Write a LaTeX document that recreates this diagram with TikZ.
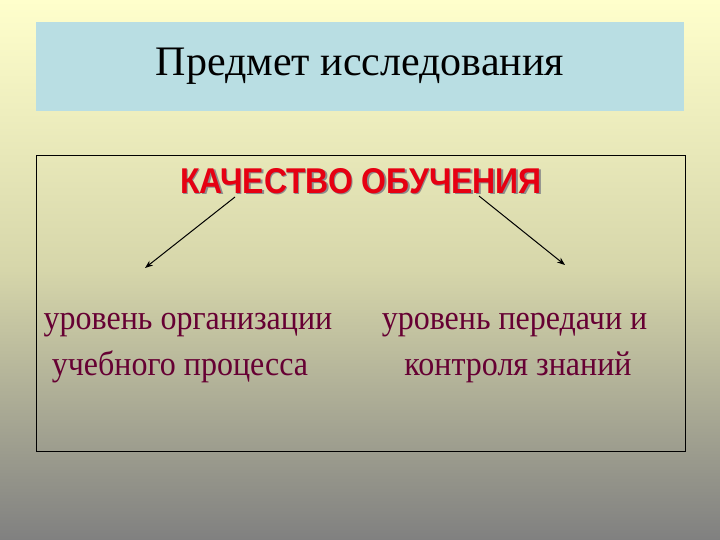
\documentclass[tikz,border=0pt]{standalone}
\usepackage{fontspec}
\usepackage{graphicx}
\setmainfont{Liberation Serif}
\newfontfamily\arialfont{Liberation Sans}
\usetikzlibrary{arrows.meta}
\definecolor{bgtop}{RGB}{255,255,204}
\definecolor{bgbot}{RGB}{128,128,128}
\definecolor{titlebox}{RGB}{185,222,227}
\definecolor{maroon}{RGB}{102,0,51}
\definecolor{redtxt}{RGB}{230,0,18}
\tikzset{
  lowtext/.style={text=maroon, font=\fontsize{32}{38}\selectfont, anchor=base, inner sep=0pt},
  headtext/.style={inner sep=0pt, font=\arialfont\bfseries\fontsize{32}{36}\selectfont},
  arr/.style={-{Stealth[length=8pt,width=6pt]}, line width=1pt}
}
\begin{document}
\begin{tikzpicture}[x=1pt,y=-1pt]
\useasboundingbox (0,0) rectangle (720,540);
\shade[top color=bgtop, bottom color=bgbot, middle color={rgb,255:red,214;green,214;blue,170}] (0,0) rectangle (720,540);
\node[fill=titlebox, minimum width=648pt, minimum height=89pt, inner sep=0pt] (title) at (360,66.5) {\fontsize{42}{48}\selectfont Предмет исследования};
\draw[line width=0.8pt] (36,155) rectangle (685,451);
\node[headtext, text=black!45] (shadow) at (362.5,182.5) {\scalebox{1}[1.12]{КАЧЕСТВО ОБУЧЕНИЯ}};
\node[headtext, text=redtxt] (main) at (361,181) {\scalebox{1}[1.12]{КАЧЕСТВО ОБУЧЕНИЯ}};
\node[lowtext] (left1) at (188,329) {\scalebox{1}[1.08]{уровень организации}};
\node[lowtext] (left2) at (180,375) {\scalebox{1}[1.08]{учебного процесса}};
\node[lowtext] (right1) at (514.5,329) {\scalebox{1}[1.08]{уровень передачи и}};
\node[lowtext] (right2) at (518,375) {\scalebox{1}[1.08]{контроля знаний}};
\coordinate (ls) at (235,197);
\coordinate (le) at (145,268);
\coordinate (rs) at (479,196);
\coordinate (re) at (565,265);
\draw[arr] (ls) -- (le);
\draw[arr] (rs) -- (re);
\end{tikzpicture}
\end{document}
